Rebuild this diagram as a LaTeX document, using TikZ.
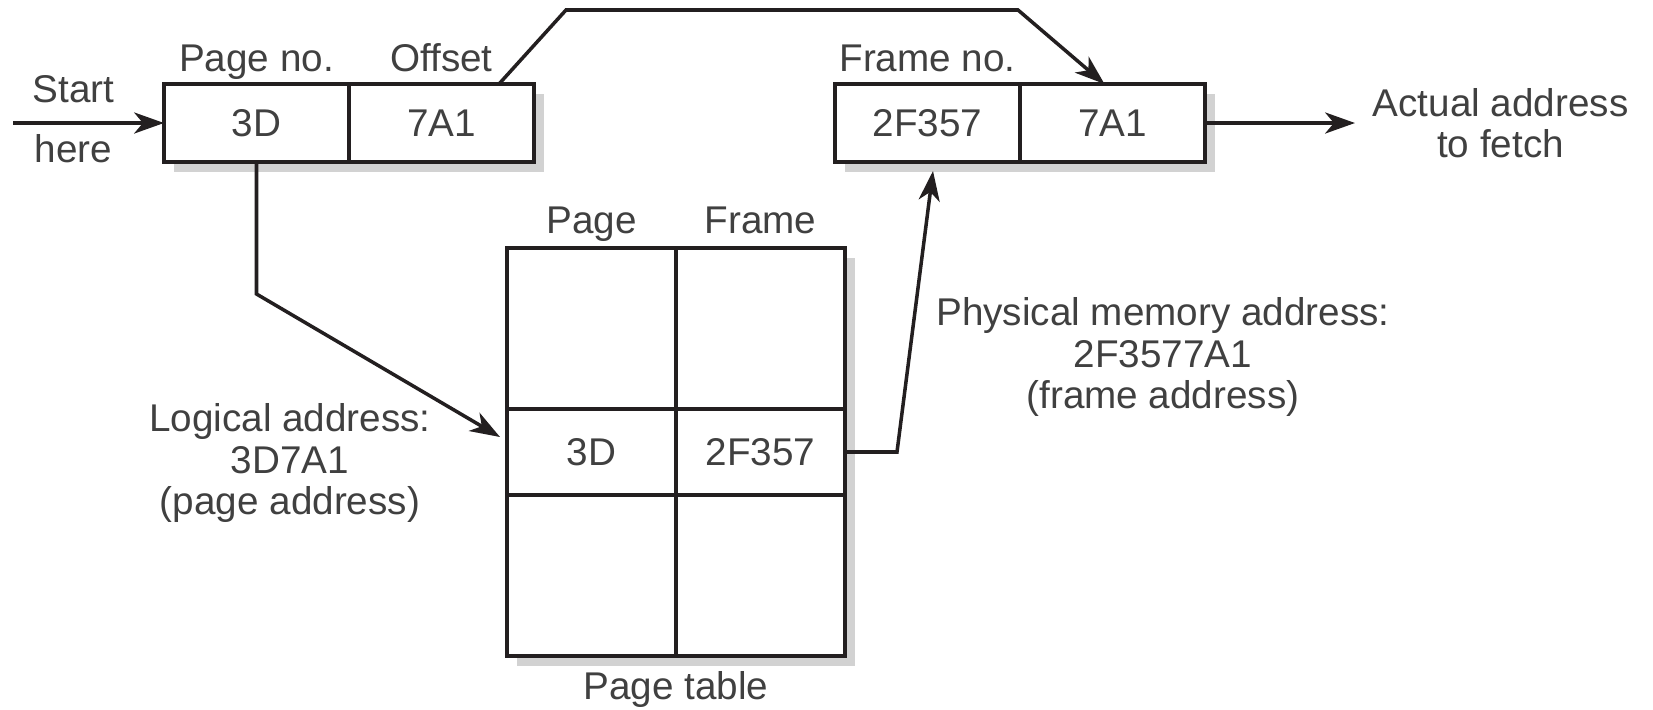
\documentclass[tikz,border=0pt]{standalone}
\usepackage{fontspec}
\setmainfont{Liberation Sans}
\usetikzlibrary{arrows.meta, positioning, fit, backgrounds, shadows}
\definecolor{ink}{HTML}{231F20}
\definecolor{label-tone}{HTML}{404040}
\definecolor{shade}{HTML}{D2D2D2}

\begin{document}
\begin{tikzpicture}[
    font=\fontsize{11}{11.8}\selectfont,
    >={Stealth[length=8.5pt, width=6pt, inset=2.5pt]},
    cell/.style={
        rectangle, draw=ink, line width=1.25pt,
        fill=white, inner sep=0pt, outer sep=0pt,
        minimum width=1.85cm, minimum height=0.78cm,
        text=label-tone,
    },
    tcell/.style={cell, minimum width=1.69cm, minimum height=1.61cm},
    caption/.style={text=label-tone, inner sep=0pt, anchor=base},
    note/.style={text=label-tone, align=center, inner sep=0pt},
    boxshadow/.style={
        rectangle, inner sep=0pt, fill=white,
        drop shadow={shadow xshift=2.8pt, shadow yshift=-2.8pt, fill=shade, opacity=1},
    },
    flow/.style={->, line width=1pt, ink},
]
\useasboundingbox (0,0) rectangle (16.53,7.09);

% =====================================================================
% LOGICAL ADDRESS — page number + offset
% =====================================================================

\node[cell] (pg) at (2.565, 5.86) {3D};
\node[cell, right=0pt of pg] (off) {7A1};
\node[caption] (pgcap)  at ([yshift=0.13cm]pg.north)  {Page no.};
\node[caption] (offcap) at ([yshift=0.13cm]off.north) {Offset};

\begin{scope}[on background layer]
    \node[boxshadow, fit=(pg)(off)] (logbox) {};
\end{scope}

\coordinate (entry) at (0.13, 5.86);
\draw[flow] (entry) -- (pg);
\node[caption] (startcap) at (0.735, 6.07) {Start};
\node[caption] (herecap)  at (0.735, 5.47) {here};

% =====================================================================
% PHYSICAL ADDRESS — frame number + offset
% =====================================================================

\node[cell] (fn) at (9.275, 5.86) {2F357};
\node[cell, right=0pt of fn] (fo) {7A1};
\node[caption] (fncap) at ([yshift=0.13cm]fn.north) {Frame no.};

\begin{scope}[on background layer]
    \node[boxshadow, fit=(fn)(fo)] (physbox) {};
\end{scope}

\coordinate (out) at (13.55, 5.86);
\draw[flow] (fo) -- (out);
\node[note, right=0.17cm of out] (fetch) {Actual address\\to fetch};

% =====================================================================
% PAGE TABLE — 3 rows x 2 columns
% =====================================================================

\node[cell, minimum width=1.69cm, minimum height=0.86cm] (pt21) at (5.915, 2.57) {3D};
\node[cell, minimum width=1.69cm, minimum height=0.86cm, right=0pt of pt21] (pt22) {2F357};
\node[tcell, above=0pt of pt21] (pt11) {};
\node[tcell, above=0pt of pt22] (pt12) {};
\node[tcell, below=0pt of pt21] (pt31) {};
\node[tcell, below=0pt of pt22] (pt32) {};

\begin{scope}[on background layer]
    \node[boxshadow, fit=(pt11)(pt32)] (table) {};
\end{scope}

\node[caption] (pagecap)  at ([yshift=0.15cm]pt11.north) {Page};
\node[caption] (framecap) at ([yshift=0.15cm]pt12.north) {Frame};
\node[caption] (tablecap) at ([yshift=-0.43cm]pt31.south east) {Page table};

% =====================================================================
% CONNECTORS
% =====================================================================

% offset is carried over the top into the physical address
\draw[flow]
    ([xshift=-0.35cm]off.north east)
    -- (5.66, 6.99)
    -- (10.18, 6.99)
    -- ([xshift=-0.08cm]fo.north);

% page number looked up in the table
\draw[flow]
    (pg.south)
    -- ++(0, -1.32)
    -- ([xshift=-0.07cm, yshift=0.15cm]pt21.west);
\node[note] (logical) at (2.90, 2.46) {Logical address:\\3D7A1\\(page address)};

% frame number taken into the physical address
\draw[flow]
    (pt22.east)
    -- ++(0.52, 0)
    -- ([xshift=0.055cm, yshift=-0.09cm]fn.south);
\node[note] (physical) at (11.63, 3.52) {Physical memory address:\\2F3577A1\\(frame address)};

\end{tikzpicture}
\end{document}
